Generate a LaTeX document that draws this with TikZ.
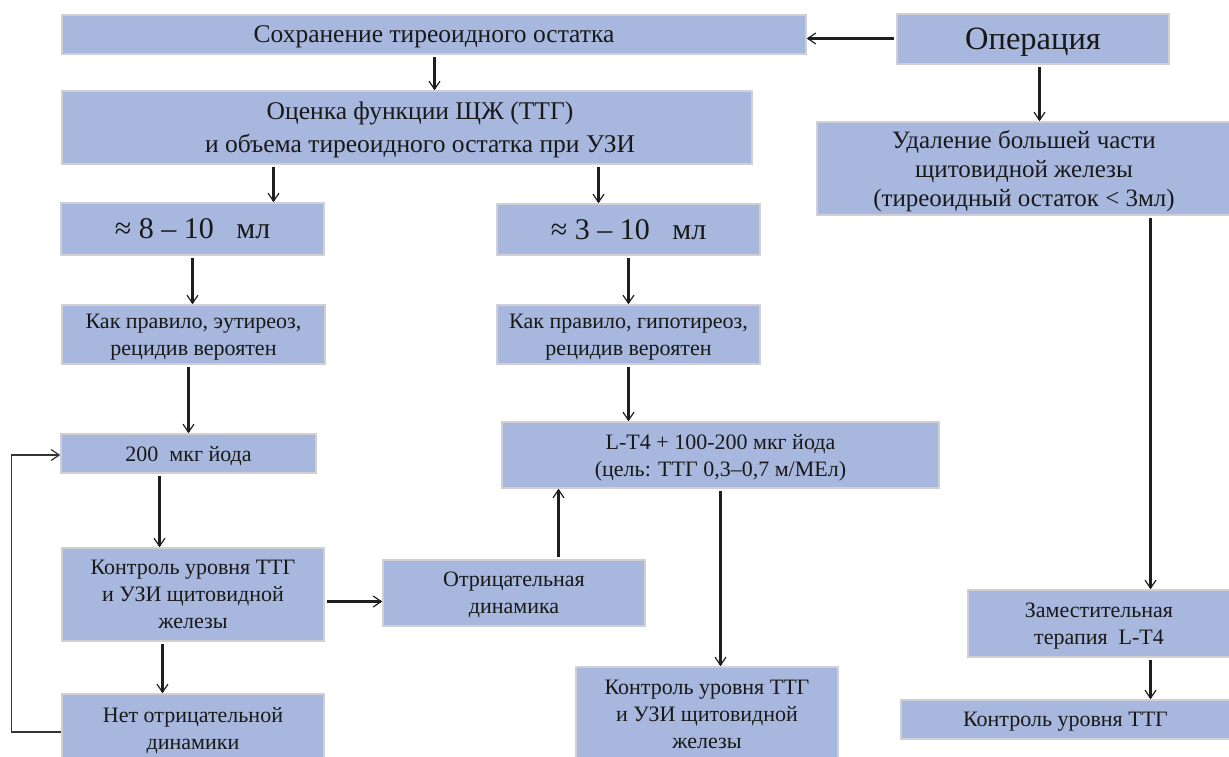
\documentclass[tikz,border=0pt]{standalone}
\usepackage{fontspec}
\setmainfont{Liberation Serif}
\usetikzlibrary{arrows.meta}
\definecolor{boxfill}{RGB}{167,183,221}
\definecolor{boxline}{RGB}{208,208,212}
\definecolor{arrline}{RGB}{30,30,30}
\newcommand\FontOp{\fontsize{32.5}{38}\selectfont}
\newcommand\FontNum{\fontsize{30}{36}\selectfont}
\newcommand\FontMid{\fontsize{25.5}{33}\selectfont}
\newcommand\FontC{\fontsize{25}{29}\selectfont}
\newcommand\FontSm{\fontsize{22}{27}\selectfont}
\begin{document}
\begin{tikzpicture}[x=1pt,y=-1pt,
  box/.style={draw=boxline, line width=1.6pt, fill=boxfill, inner sep=0pt, align=center, text=black!90, text depth=0pt},
  arr/.style={draw=arrline, line width=2.2pt, -{Straight Barb[length=8pt,width=11pt,line width=1.2pt]}, shorten <=2pt},
  fb/.style={draw=arrline!90, line width=1.4pt, -{Straight Barb[length=8pt,width=11pt,line width=1.2pt]}}]
\useasboundingbox (0,0) rectangle (1229,757);

\node[box, font=\FontMid, minimum width=744pt, minimum height=39pt] (A) at (434,34.5) {Сохранение тиреоидного остатка};
\node[box, font=\FontOp, minimum width=272pt, minimum height=50pt] (op) at (1033,39) {Операция};
\node[box, font=\FontMid, minimum width=690pt, minimum height=73pt] (B) at (407,127.5) {\hspace*{26pt}Оценка функции ЩЖ (ТТГ)\\ \hspace*{26pt}и объема тиреоидного остатка при УЗИ};
\node[box, font=\FontC, minimum width=414pt, minimum height=93pt] (C) at (1024,168.5) {Удаление большей части\\ щитовидной железы\\ (тиреоидный остаток < 3мл)};

\node[box, font=\FontNum, minimum width=263pt, minimum height=52pt] (v8) at (192.5,229) {≈ 8 – 10 \ \ мл};
\node[box, font=\FontNum, minimum width=263pt, minimum height=51pt] (v3) at (628.5,229.5) {≈ 3 – 10 \ \ мл};

\node[box, font=\FontSm, minimum width=263pt, minimum height=59pt] (eu) at (193.5,334.5) {Как правило, эутиреоз,\\ рецидив вероятен};
\node[box, font=\FontSm, minimum width=263pt, minimum height=59pt] (hypo) at (628.5,334.5) {Как правило, гипотиреоз,\\ рецидив вероятен};

\node[box, font=\FontSm, minimum width=255pt, minimum height=39pt] (iod) at (188.5,453.5) {200 \ мкг йода};
\node[box, font=\FontSm, minimum width=437pt, minimum height=66pt] (lt4) at (720.5,455) {L-T4 + 100-200 мкг йода\\ (цель: ТТГ 0,3–0,7 м/МЕл)};

\node[box, font=\FontSm, minimum width=262pt, minimum height=93pt] (ctrl1) at (193,594.5) {Контроль уровня ТТГ\\ и УЗИ щитовидной\\ железы};
\node[box, font=\FontSm, minimum width=262pt, minimum height=66pt] (neg) at (514,593) {Отрицательная\\ динамика};
\node[box, font=\FontSm, minimum width=262pt, minimum height=68pt] (no) at (193,728) {Нет отрицательной\\ динамики};

\node[box, font=\FontSm, minimum width=262pt, minimum height=95pt] (ctrl2) at (707,714.5) {Контроль уровня ТТГ\\ и УЗИ щитовидной\\ железы};
\node[box, font=\FontSm, minimum width=262pt, minimum height=67pt] (zam) at (1099,623.5) {Заместительная\\ терапия \ L-T4};
\node[box, font=\FontSm, minimum width=329pt, minimum height=39pt] (ctrl3) at (1065.5,719.5) {Контроль уровня ТТГ};

% connectors
\draw[arr] ([yshift=0.5pt]op.west) -- ([yshift=0.5pt]op.west -| A.east);
\draw[arr] ([xshift=0.5pt]A.south) -- ([xshift=0.5pt]A.south |- B.north);
\draw[arr] ([xshift=6.5pt]op.south) -- ([xshift=6.5pt]op.south |- C.north);
\draw[arr] ([xshift=-133.5pt]B.south) -- ([xshift=-133.5pt]B.south |- v8.north);
\draw[arr] ([xshift=191.5pt]B.south) -- ([xshift=191.5pt]B.south |- v3.north);
\draw[arr] (v8.south) -- (v8.south |- eu.north);
\draw[arr] ([xshift=-5pt]eu.south) -- ([xshift=-5pt]eu.south |- iod.north);
\draw[arr] (v3.south) -- (v3.south |- hypo.north);
\draw[arr] (hypo.south) -- (hypo.south |- lt4.north);
\draw[arr] ([xshift=-29pt]iod.south) -- ([xshift=-29pt]iod.south |- ctrl1.north);
\draw[arr] ([xshift=-30.5pt]ctrl1.south) -- ([xshift=-30.5pt]ctrl1.south |- no.north);
\draw[arr] ([yshift=-7pt]ctrl1.east) -- ([yshift=-7pt]ctrl1.east -| neg.west);
\draw[arr] ([xshift=44.5pt]neg.north) -- ([xshift=44.5pt]neg.north |- lt4.south);
\draw[arr] (lt4.south) -- (lt4.south |- ctrl2.north);
\draw[arr] ([xshift=51.5pt]zam.north |- C.south) -- ([xshift=51.5pt]zam.north);
\draw[arr] ([xshift=51.5pt]zam.south) -- ([xshift=51.5pt]zam.south |- ctrl3.north);
\coordinate (fbl) at ([xshift=-50pt,yshift=-4pt]no.west);
\draw[fb] ([yshift=-4pt]no.west) -- (fbl) |- ([yshift=-1.5pt]iod.west);
\end{tikzpicture}
\end{document}
